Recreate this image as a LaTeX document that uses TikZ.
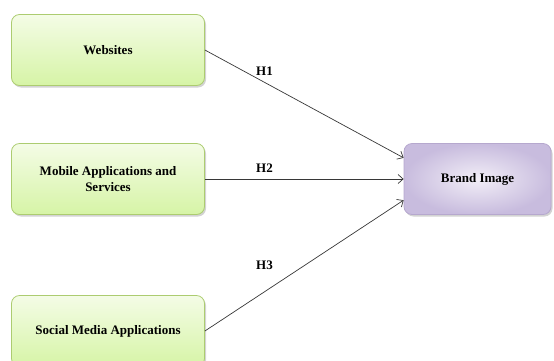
\documentclass[tikz,border=0pt]{standalone}
\usepackage{fontspec}
\setmainfont{Liberation Serif}
\usetikzlibrary{arrows.meta,shadows}

\definecolor{leafline}{RGB}{172,204,112}
\definecolor{leaftop}{RGB}{244,252,230}
\definecolor{leafbot}{RGB}{214,244,166}
\definecolor{plumline}{RGB}{182,168,206}
\definecolor{pluminner}{RGB}{242,238,247}
\definecolor{plumouter}{RGB}{200,188,222}
\definecolor{linkgray}{RGB}{55,55,55}

\begin{document}
\begin{tikzpicture}[x=1pt,y=-1pt,->,>={Straight Barb[length=5pt,width=9pt]},
  line width=0.7pt,
  driver node/.style={rectangle,rounded corners=8pt,draw=leafline,line width=0.8pt,
    top color=leaftop,bottom color=leafbot,minimum width=193pt,minimum height=71pt,
    align=center,font=\fontsize{13}{16}\selectfont\bfseries,
    drop shadow={opacity=0.35,shadow xshift=1.5pt,shadow yshift=-2pt}},
  brand node/.style={rectangle,rounded corners=8pt,draw=plumline,line width=0.8pt,
    inner color=pluminner,outer color=plumouter,minimum width=147pt,minimum height=71pt,
    font=\fontsize{13}{16}\selectfont\bfseries,
    drop shadow={opacity=0.35,shadow xshift=1.5pt,shadow yshift=-2pt}},
  link/.style={draw=linkgray},
  hyp/.style={pos=0.3,above=3pt,font=\fontsize{13}{16}\selectfont\bfseries,text=black}]

\useasboundingbox (0,0) rectangle (554,360);
\clip (0,0) rectangle (554,360);

\node[driver node](W) at (108,50) {Websites};
\node[driver node](M) at (108,179) {Mobile Applications and\\Services};
\node[driver node](S) at (108,331) {Social Media Applications};
\node[brand node](B) at (477.5,179) {Brand Image};

\path
(W.east) edge[link] node[hyp] {H1} (B.164)
(M.east) edge[link] node[hyp] {H2} (B.west)
(S.east) edge[link] node[hyp,above=15pt] {H3} (B.196);
\end{tikzpicture}
\end{document}
